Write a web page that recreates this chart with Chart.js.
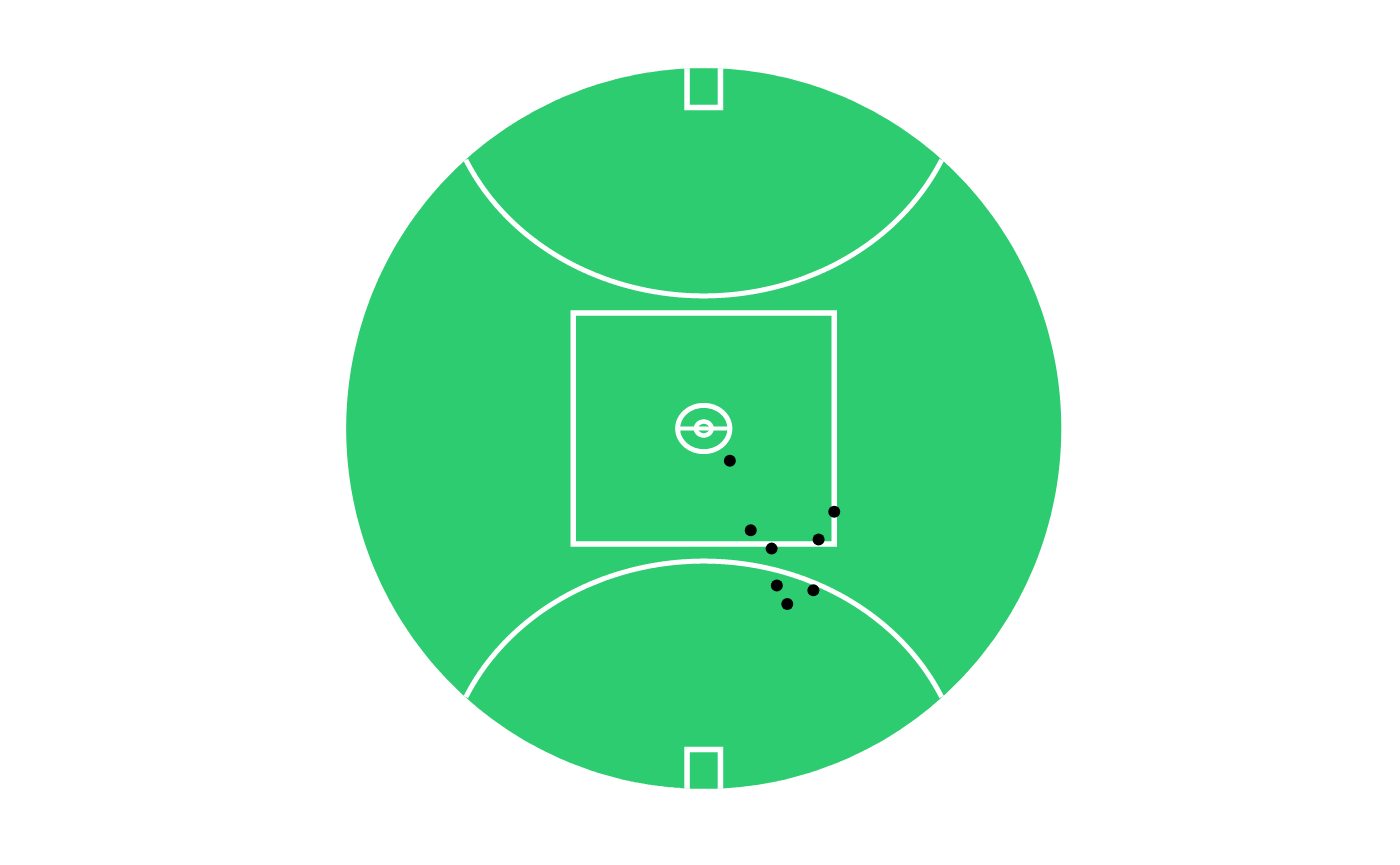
<!DOCTYPE html>
<html>
<head>
<meta charset="utf-8">
<script src="https://cdn.jsdelivr.net/npm/chart.js@4/dist/chart.umd.min.js"></script>
<style>
  html, body { margin:0; padding:0; background:#ffffff; }
  #wrap { width:1400px; height:865px; position:relative; }
</style>
</head>
<body>
<div id="wrap"><canvas id="field"></canvas></div>
<script>
// shot locations, metres from centre (x across the ground, y along it)
var shotX = [5, 9, 13, 22, 25, 14, 16, 21];
var shotY = [-7, -22, -26, -24, -18, -34, -38, -35];

// ground dimensions (m)
var fieldW = 137, fieldL = 156;
var arcR = 50, arcOffset = 0.7;   // 50m arc, centred just behind the goal line
var squareHalf = 25;              // centre square
var goalHalfW = 3.2, goalDepth = 8.5;
var circleR = 5, innerR = 1.5;

var GREEN = '#2ecc71';

function ellipsePts(cx, cy, rx, ry, n){
  var pts = [];
  for (var i = 0; i <= n; i++){
    var t = i / n * Math.PI * 2;
    pts.push({x: cx + rx * Math.cos(t), y: cy + ry * Math.sin(t)});
  }
  return pts;
}

function inOval(p){
  var a = fieldW / 2, b = fieldL / 2;
  return (p.x * p.x) / (a * a) + (p.y * p.y) / (b * b) <= 1.0;
}

// 50m arc round a goal, kept inside the boundary
function arcPts(side){
  var gy = side * (fieldL / 2 + arcOffset), pts = [];
  for (var i = 0; i <= 600; i++){
    var t = -Math.PI / 2 + i / 600 * Math.PI;
    var p = {x: arcR * Math.sin(t), y: gy - side * arcR * Math.cos(t)};
    if (inOval(p)) pts.push(p);
  }
  return pts;
}

function goalPts(side){
  var gy = side * fieldL / 2, iy = gy - side * goalDepth;
  return [{x:-goalHalfW, y:gy}, {x:-goalHalfW, y:iy}, {x:goalHalfW, y:iy}, {x:goalHalfW, y:gy}];
}

var shots = [];
for (var i = 0; i < shotX.length; i++) shots.push({x: shotX[i], y: shotY[i]});

// tiny tension so chart.js doesn't use its per-column fast path on closed curves
function lineSet(pts, w, curved){
  return {
    data: pts, showLine: true, pointRadius: 0, borderColor: '#ffffff',
    borderWidth: w || 5.5, fill: false, tension: curved ? 0.0001 : 0,
    borderJoinStyle: 'miter', order: 1
  };
}

var sq = squareHalf;
var datasets = [
  { data: shots, pointRadius: 6, pointBackgroundColor: '#000000', pointBorderWidth: 0,
    showLine: false, order: 0 },
  // start mid-side so every corner gets a proper join
  lineSet([{x:0,y:-sq},{x:sq,y:-sq},{x:sq,y:sq},{x:-sq,y:sq},{x:-sq,y:-sq},{x:0,y:-sq}]),
  lineSet(arcPts(1), 5, true),
  lineSet(arcPts(-1), 5, true),
  lineSet(goalPts(1)),
  lineSet(goalPts(-1)),
  lineSet(ellipsePts(0, 0, circleR, circleR, 120), 5, true),
  lineSet(ellipsePts(0, 0, innerR, innerR, 60), 4.5, true),
  lineSet([{x:-circleR, y:0}, {x:circleR, y:0}], 4),
  { data: ellipsePts(0, 0, fieldW / 2, fieldL / 2, 400), showLine: true, pointRadius: 0,
    borderWidth: 0, borderColor: GREEN, backgroundColor: GREEN, fill: 'shape',
    tension: 0.0001, order: 2 }
];

new Chart(document.getElementById('field'), {
  type: 'scatter',
  data: { datasets: datasets },
  options: {
    responsive: true,
    maintainAspectRatio: false,
    animation: false,
    events: [],
    layout: { padding: 0, autoPadding: false },
    plugins: { legend: { display: false }, tooltip: { enabled: false } },
    scales: {
      x: { type: 'linear', display: false, min: -134.82, max: 133.38 },
      y: { type: 'linear', display: false, min: -94.48, max: 92.75 }
    }
  }
});
</script>
</body>
</html>
